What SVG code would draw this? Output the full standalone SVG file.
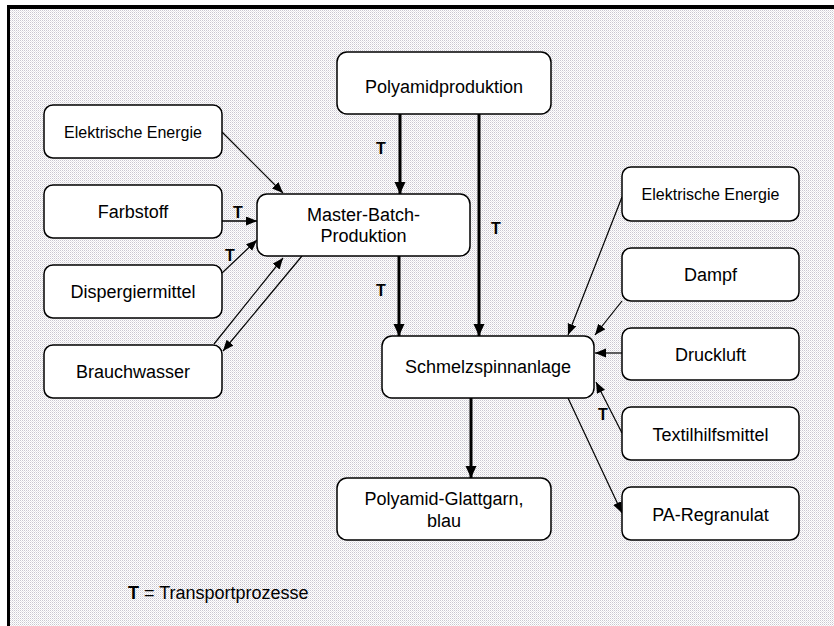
<svg xmlns="http://www.w3.org/2000/svg" width="834" height="626" viewBox="0 0 834 626">
<style>
.box{fill:#fff;stroke:#000;stroke-width:1.5}
.t{font-family:"Liberation Sans",Arial,sans-serif;font-size:18px;fill:#000;text-anchor:middle}
.s{font-size:16px}
.lb{font-family:"Liberation Sans",Arial,sans-serif;font-size:16px;font-weight:bold;fill:#000;text-anchor:middle}
.thin{stroke:#000;stroke-width:1.2;fill:none;marker-end:url(#ah)}
.thick{stroke:#000;stroke-width:3;fill:none;marker-end:url(#ahb)}
</style>
<defs>
<pattern id="bg" width="2" height="2" patternUnits="userSpaceOnUse">
<rect width="2" height="2" fill="#fff"/>
<rect x="0" y="0" width="1" height="1" fill="#cac6d0"/>
<rect x="1" y="1" width="1" height="1" fill="#e6e4e8"/>
</pattern>
<marker id="ah" markerUnits="userSpaceOnUse" markerWidth="12" markerHeight="10" refX="11" refY="4.5" orient="auto">
<path d="M0,0 L11,4.5 L0,9 z" fill="#000"/>
</marker>
<marker id="ahb" markerUnits="userSpaceOnUse" markerWidth="14" markerHeight="12" refX="12" refY="5.5" orient="auto">
<path d="M0,0 L12,5.5 L0,11 z" fill="#000"/>
</marker>
</defs>
<rect x="0" y="0" width="834" height="626" fill="#fff"/>
<rect x="10" y="9" width="824" height="617" fill="url(#bg)"/>
<rect x="7" y="5" width="827" height="4" fill="#000"/>
<rect x="7" y="5" width="3" height="621" fill="#000"/>

<g id="connectors">
<line class="thin" x1="222" y1="132" x2="283" y2="193"/>
<line class="thin" x1="222" y1="221" x2="257" y2="221" style="stroke-width:1.5"/>
<line class="thin" x1="222" y1="273" x2="257" y2="240"/>
<line class="thin" x1="214" y1="344" x2="283" y2="258"/>
<line class="thin" x1="302" y1="256" x2="223" y2="351"/>
<line class="thick" x1="400" y1="114" x2="400" y2="194"/>
<line class="thick" x1="479" y1="114" x2="479" y2="336"/>
<line class="thick" x1="399" y1="256" x2="399" y2="336"/>
<line class="thick" x1="471" y1="398" x2="471" y2="478"/>
<line class="thin" x1="622" y1="197" x2="568" y2="335"/>
<line class="thin" x1="622" y1="301" x2="595" y2="335"/>
<line class="thin" x1="622" y1="353" x2="595" y2="353"/>
<line class="thin" x1="622" y1="433" x2="596" y2="382"/>
<line class="thin" x1="568" y1="398" x2="622" y2="513"/>
<text class="lb" x="238" y="218">T</text>
<text class="lb" x="230" y="261">T</text>
<text class="lb" x="381" y="154">T</text>
<text class="lb" x="496" y="234">T</text>
<text class="lb" x="381" y="296">T</text>
<text class="lb" x="603" y="420">T</text>
</g>

<g id="n-elek-left"><rect class="box" x="44" y="105" width="178" height="53" rx="9"/><text class="t s" x="133" y="138">Elektrische Energie</text></g>
<g id="n-farbstoff"><rect class="box" x="44" y="185" width="178" height="53" rx="9"/><text class="t" x="133" y="218">Farbstoff</text></g>
<g id="n-disp"><rect class="box" x="44" y="265" width="178" height="53" rx="9"/><text class="t" x="133" y="298">Dispergiermittel</text></g>
<g id="n-brauch"><rect class="box" x="44" y="345" width="178" height="53" rx="9"/><text class="t" x="133" y="378">Brauchwasser</text></g>
<g id="n-master"><rect class="box" x="257" y="194" width="213" height="62" rx="10"/><text class="t" x="363.5" y="221">Master-Batch-</text><text class="t" x="363.5" y="242">Produktion</text></g>
<g id="n-polyamid"><rect class="box" x="337" y="52" width="214" height="62" rx="10"/><text class="t" x="444" y="93">Polyamidproduktion</text></g>
<g id="n-schmelz"><rect class="box" x="382" y="336" width="212" height="62" rx="10"/><text class="t" x="488" y="373">Schmelzspinnanlage</text></g>
<g id="n-glattgarn"><rect class="box" x="337" y="478" width="214" height="62" rx="10"/><text class="t" x="444" y="505">Polyamid-Glattgarn,</text><text class="t" x="444" y="527">blau</text></g>
<g id="n-elek-right"><rect class="box" x="622" y="167" width="177" height="54" rx="9"/><text class="t s" x="710.5" y="200">Elektrische Energie</text></g>
<g id="n-dampf"><rect class="box" x="622" y="248" width="177" height="53" rx="9"/><text class="t" x="710.5" y="281">Dampf</text></g>
<g id="n-druckluft"><rect class="box" x="622" y="328" width="177" height="52" rx="9"/><text class="t" x="710.5" y="361">Druckluft</text></g>
<g id="n-textil"><rect class="box" x="622" y="407" width="177" height="53" rx="9"/><text class="t" x="710.5" y="441">Textilhilfsmittel</text></g>
<g id="n-regranulat"><rect class="box" x="622" y="487" width="177" height="53" rx="9"/><text class="t" x="710.5" y="521">PA-Regranulat</text></g>

<g id="legend"><text x="128" y="599" style="font-family:'Liberation Sans',Arial,sans-serif;font-size:18px;fill:#000"><tspan font-weight="bold">T</tspan> = Transportprozesse</text></g>
</svg>
